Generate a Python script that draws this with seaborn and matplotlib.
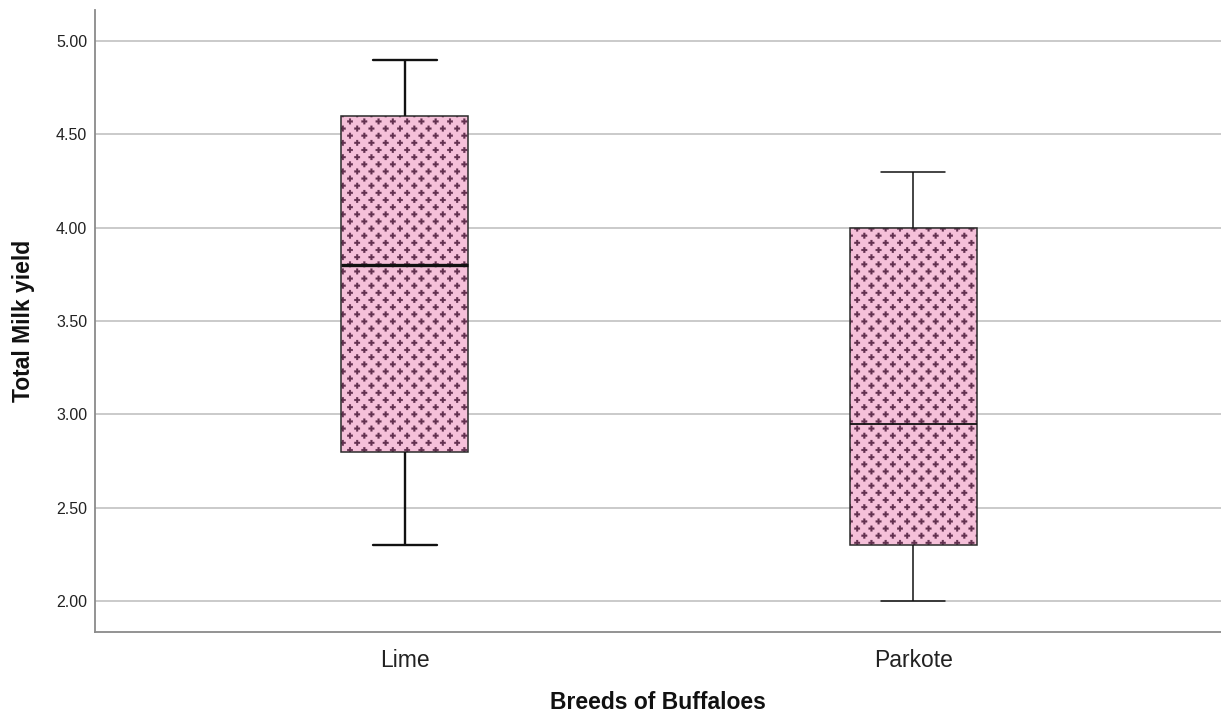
import numpy as np
import pandas as pd
import matplotlib
matplotlib.use("Agg")
import matplotlib.pyplot as plt
import matplotlib.hatch as mhatch
import matplotlib.colors as mcolors
from matplotlib.path import Path
import seaborn as sns

# ---- data (five-number summaries: min, Q1, median, Q3, max)
breeds = ["Lime", "Parkote"]
lime_values = [2.30, 2.80, 3.80, 4.60, 4.90]
parkote_values = [2.00, 2.30, 2.95, 4.00, 4.30]
y_ticks = [2.0, 2.5, 3.0, 3.5, 4.0, 4.5, 5.0]
x_title = "Breeds of Buffaloes"
y_title = "Total Milk yield"

df = pd.DataFrame({
    "breed": [breeds[0]] * len(lime_values) + [breeds[1]] * len(parkote_values),
    "value": lime_values + parkote_values,
})


# ---- custom hatch: staggered small plus signs (SPSS-like pattern)
class PlusHatch(mhatch.HatchPatternBase):
    cols = 7
    arm = 0.028
    half = 0.009

    def __init__(self, hatch, density):
        centers = []
        rows = 2 * self.cols
        if '+' in hatch:
            for k in range(rows + 1):
                off = 0.5 * (k % 2)
                for i in range(self.cols + 1):
                    x = (i + off) / self.cols
                    if x <= 1.0 + 1e-9:
                        centers.append((x, k / rows))
        self.centers = centers
        self.num_vertices = 13 * len(centers)

    def set_vertices_and_codes(self, vertices, codes):
        a, t = self.arm, self.half
        shape = np.array([
            (-t, -a), (t, -a), (t, -t), (a, -t), (a, t), (t, t),
            (t, a), (-t, a), (-t, t), (-a, t), (-a, -t), (-t, -t), (-t, -a)])
        for j, (cx, cy) in enumerate(self.centers):
            s = 13 * j
            vertices[s:s + 13] = shape + np.array([cx, cy])
            codes[s] = Path.MOVETO
            codes[s + 1:s + 12] = Path.LINETO
            codes[s + 12] = Path.CLOSEPOLY


mhatch._hatch_types = [PlusHatch]

sns.set_style("white")
plt.rcParams["font.family"] = ["Liberation Sans", "DejaVu Sans"]
plt.rcParams["hatch.linewidth"] = 0.2

fig = plt.figure(figsize=(12.21, 7.13), dpi=100)
ax = fig.add_axes([95 / 1221, 81 / 713, 1 - 95 / 1221, 622 / 713])

pink = "#f5c0d9"
sns.boxplot(data=df, x="breed", y="value", order=breeds, width=0.25,
            color=pink, saturation=1, linecolor="#1e1e1e", linewidth=1.1,
            fliersize=0, ax=ax)

hatch_col = mcolors.to_rgba("#62304f")
for p in ax.patches:
    p.set_hatch("+")
    p.set_edgecolor("#2a2a2a")
    p._hatch_color = hatch_col
    p.set_linewidth(1.1)

for line in ax.lines:
    xd = np.asarray(line.get_xdata(), dtype=float)
    if xd.size == 0:
        continue
    yd = np.asarray(line.get_ydata(), dtype=float)
    is_lime = np.mean(xd) < 0.5
    span = xd.max() - xd.min()
    is_median = span > 0.2 and (yd.max() - yd.min()) < 1e-9
    line.set_color("#111111")
    if is_lime:
        line.set_linewidth(2.4 if is_median else 1.7)
    else:
        line.set_linewidth(1.3 if is_median else 1.1)

ax.set_xlim(-0.61, 1.606)
ax.set_ylim(1.834, 5.166)
ax.set_yticks(y_ticks)
ax.set_yticklabels([f"{v:.2f}" for v in y_ticks])
ax.set_axisbelow(True)
ax.yaxis.grid(True, color="#c6c6c6", linewidth=1.3)
ax.xaxis.grid(False)

for side in ["top", "right"]:
    ax.spines[side].set_visible(False)
for side in ["left", "bottom"]:
    ax.spines[side].set_color("#8a8a8a")
    ax.spines[side].set_linewidth(1.3)

ax.tick_params(axis="y", length=0, labelsize=11.5, pad=5.5, labelcolor="#222222")
ax.tick_params(axis="x", length=0, labelsize=16.5, pad=12.5, labelcolor="#222222")

ax.set_xlabel(x_title, fontsize=16.5, fontweight="bold", color="#111111")
ax.xaxis.label.set_va("center")
ax.xaxis.set_label_coords(0.5, -0.114)
ax.set_ylabel(y_title, fontsize=16.5, fontweight="bold", color="#111111")
ax.yaxis.label.set_va("center")
ax.yaxis.set_label_coords(-0.0635, 0.5)

fig.savefig("out.png", dpi=100)
